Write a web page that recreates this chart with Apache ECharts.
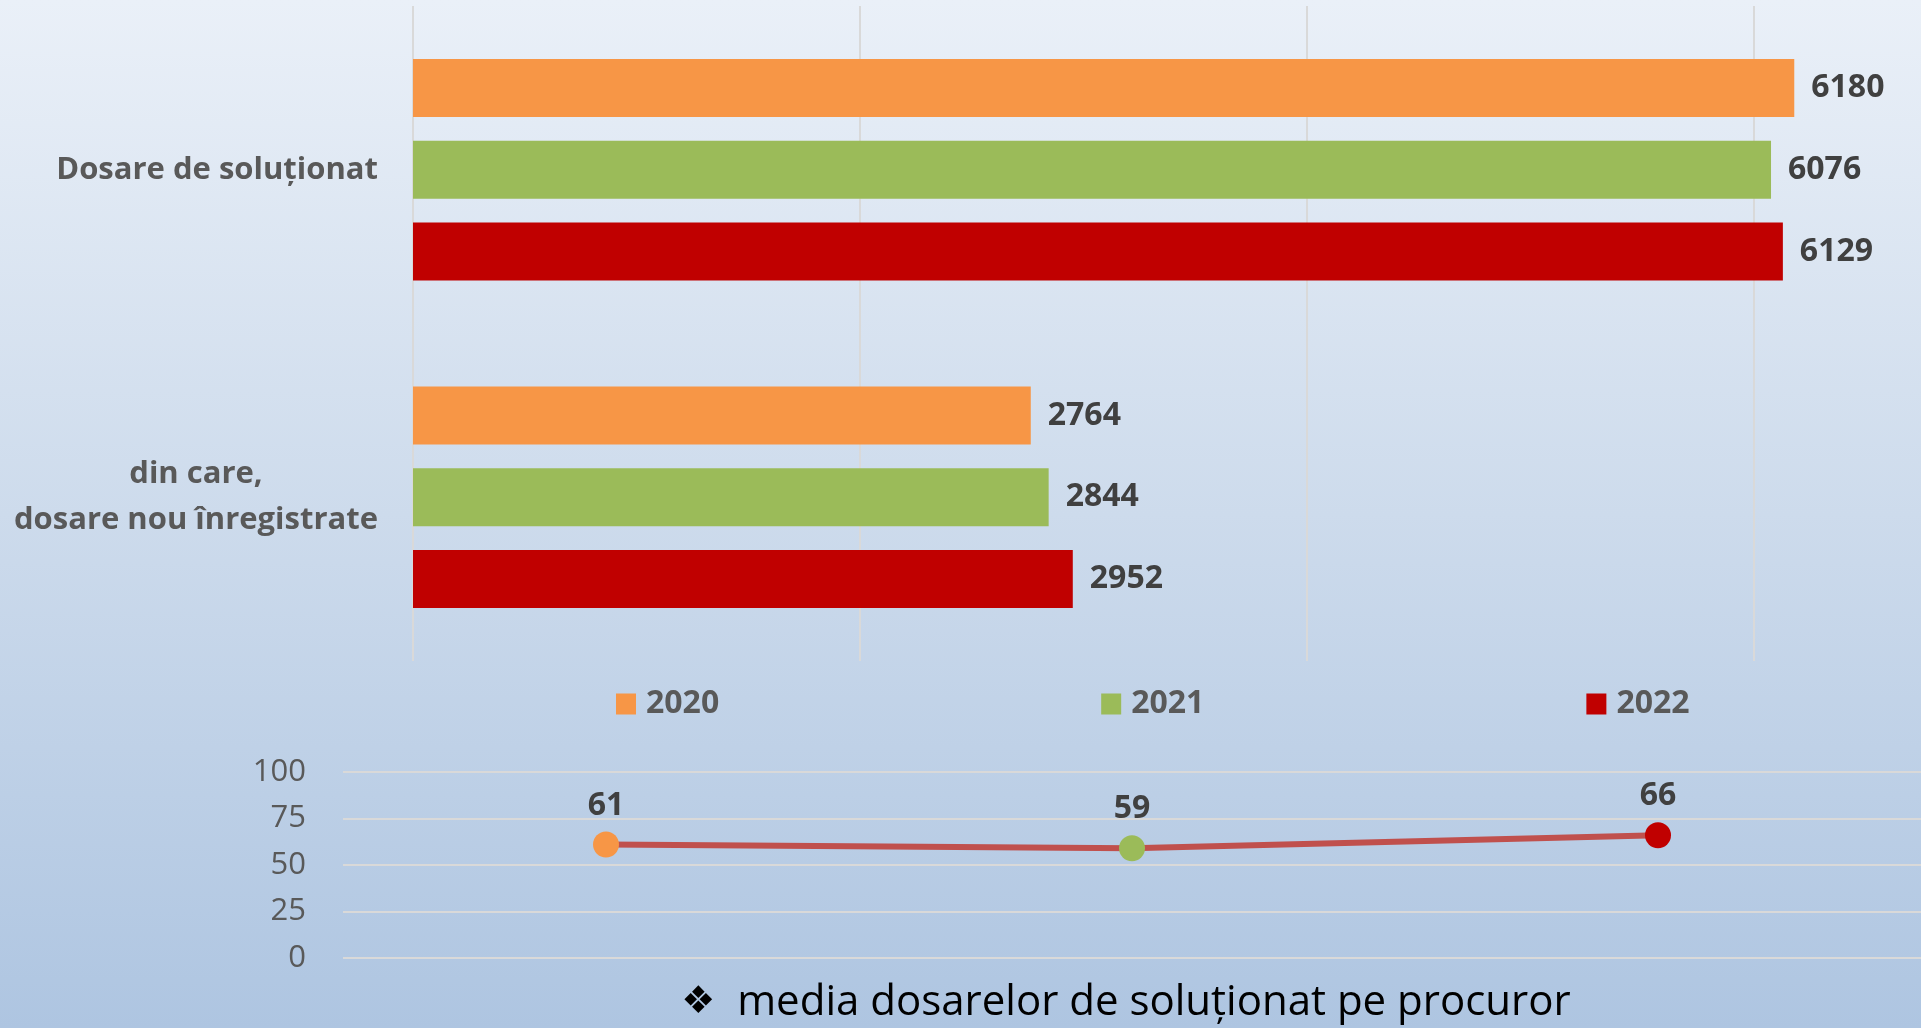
<!DOCTYPE html>
<html>
<head>
<meta charset="utf-8">
<script src="https://cdn.jsdelivr.net/npm/echarts@6/dist/echarts.min.js"></script>
<style>
  html, body { margin: 0; padding: 0; }
  #chart { width: 1921px; height: 1028px; }
</style>
</head>
<body>
<div id="chart"></div>
<script>
// date
var categories = ['Dosare de soluționat', 'din care,\ndosare nou înregistrate']
var years = ['2020', '2021', '2022']
var values2020 = [6180, 2764]
var values2021 = [6076, 2844]
var values2022 = [6129, 2952]
var mediaValues = [61, 59, 66]
var yTicks = [0, 25, 50, 75, 100]
var yearColors = ['#F79646', '#9BBB59', '#C00000']

var font = 'Open Sans, DejaVu Sans, sans-serif'
var chart = echarts.init(document.getElementById('chart'))

function barSeries (name, data, color) {
  return {
    name: name,
    type: 'bar',
    xAxisIndex: 0,
    yAxisIndex: 0,
    data: data,
    barWidth: 58,
    barGap: '41%',
    itemStyle: {color: color},
    label: {
      show: true,
      position: 'right',
      distance: 17,
      fontFamily: font,
      fontSize: 32,
      fontWeight: 'bold',
      color: '#404040'
    }
  }
}

chart.setOption({
  backgroundColor: {
    type: 'linear', x: 0, y: 0, x2: 0, y2: 1,
    colorStops: [
      {offset: 0, color: '#EAF0F8'},
      {offset: 0.5, color: '#CDDBEC'},
      {offset: 1, color: '#AEC5E1'}
    ]
  },
  animation: false,
  title: {
    text: '{d|❖}  media dosarelor de soluționat pe procuror',
    left: 1121,
    top: 977,
    textAlign: 'center',
    textStyle: {
      fontFamily: font,
      fontSize: 42,
      fontWeight: 'normal',
      color: '#000000',
      rich: {d: {fontFamily: 'DejaVu Sans', fontSize: 38, color: '#000000'}}
    }
  },
  legend: {
    data: years,
    left: 611,
    top: 683,
    itemWidth: 20,
    itemHeight: 21,
    itemGap: 382,
    icon: 'rect',
    textStyle: {fontFamily: font, fontSize: 32, fontWeight: 'bold', color: '#595959', padding: [0, 0, 0, 5]}
  },
  grid: [
    {left: 413, top: 6, right: 0, height: 655},
    {left: 343, top: 772, right: 0, height: 186}
  ],
  xAxis: [
    {
      gridIndex: 0,
      type: 'value',
      min: 0,
      max: 6747,
      interval: 2000,
      axisLabel: {show: false},
      axisLine: {show: false},
      axisTick: {show: false},
      splitLine: {showMaxLine: false, lineStyle: {color: '#D9D9D9', width: 2}}
    },
    {
      gridIndex: 1,
      type: 'category',
      data: years,
      axisLabel: {show: false},
      axisLine: {show: false},
      axisTick: {show: false}
    }
  ],
  yAxis: [
    {
      gridIndex: 0,
      type: 'category',
      inverse: true,
      data: categories,
      axisLine: {show: false},
      axisTick: {show: false},
      axisLabel: {
        margin: 35,
        formatter: function (v) {
          return v.split('\n').map(function (l) { return '{c|' + l + '}' }).join('\n')
        },
        rich: {
          c: {align: 'center', fontFamily: font, fontSize: 31, fontWeight: 'bold', color: '#595959', lineHeight: 46}
        }
      }
    },
    {
      gridIndex: 1,
      type: 'value',
      min: yTicks[0],
      max: yTicks[yTicks.length - 1],
      interval: 25,
      axisLine: {show: false},
      axisTick: {show: false},
      axisLabel: {margin: 37, fontFamily: font, fontSize: 31, color: '#595959'},
      splitLine: {lineStyle: {color: '#D9D9D9', width: 2}}
    }
  ],
  series: [
    barSeries(years[0], values2020, yearColors[0]),
    barSeries(years[1], values2021, yearColors[1]),
    barSeries(years[2], values2022, yearColors[2]),
    {
      name: 'media',
      type: 'line',
      xAxisIndex: 1,
      yAxisIndex: 1,
      data: mediaValues.map(function (v, i) {
        return {value: v, itemStyle: {color: yearColors[i]}}
      }),
      symbol: 'circle',
      symbolSize: 26,
      lineStyle: {color: '#C0504D', width: 6},
      label: {
        show: true,
        position: 'top',
        distance: 10,
        fontFamily: font,
        fontSize: 32,
        fontWeight: 'bold',
        color: '#404040'
      }
    }
  ]
})
</script>
</body>
</html>
